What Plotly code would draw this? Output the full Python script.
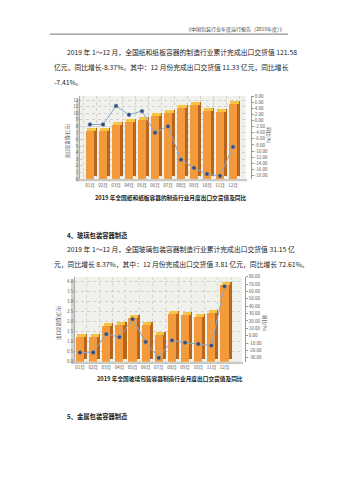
import plotly.graph_objects as go

W, H = 339, 480
def px(x): return x / W
def py(y): return 1 - y / H

months = ["01月", "02月", "03月", "04月", "05月", "06月", "07月", "08月", "09月", "10月", "11月", "12月"]
paper_export = [7.3, 7.3, 8.2, 8.6, 9.0, 9.5, 10.0, 10.8, 11.3, 10.3, 10.2, 11.4]
paper_yoy = [-1.3, -1.3, 4.8, 1.9, 3.1, -4.0, -1.9, -12.8, -15.5, -17.5, -18.1, -8.6]
glass_export = [1.22, 1.25, 1.78, 1.85, 2.18, 1.85, 1.33, 2.40, 2.35, 2.25, 2.45, 3.81]
glass_yoy = [-22.8, -22.8, 2.2, -1.8, 22.4, -8.5, -30.0, -6.3, -9.4, -11.2, -13.4, 67.1]
paper_left_ticks = list(range(0, 13))
paper_right_ticks = list(range(-18, 9, 2))
glass_left_ticks = [0, 0.5, 1.0, 1.5, 2.0, 2.5, 3.0, 3.5, 4.0]
glass_right_ticks = list(range(-30, 81, 10))

idx = list(range(len(months)))
FONT = "Noto Sans CJK SC"
FRONT, SIDE, CAP = "#F39A3C", "#B8661E", "#F6C443"
LINE_C, MARK_C = "#8CA7CB", "#2F4B7C"

fig = go.Figure()

def add_chart(xa, ya, ya2, export, yoy, dx, dy, w=0.62):
    n = len(export)
    fig.add_trace(go.Bar(x=idx, y=export, base=[dy] * n, offset=-w / 2 + dx, width=w,
                         marker=dict(color=SIDE, line=dict(width=0)), xaxis=xa, yaxis=ya,
                         hoverinfo="skip"))
    fig.add_trace(go.Bar(x=idx, y=export, offset=-w / 2, width=w,
                         marker=dict(color=FRONT, line=dict(width=0)), xaxis=xa, yaxis=ya))
    fig.add_trace(go.Bar(x=idx, y=[dy] * n, base=export, offset=-w / 2 + dx / 2, width=w,
                         marker=dict(color=CAP, line=dict(width=0)), xaxis=xa, yaxis=ya,
                         hoverinfo="skip"))
    fig.add_trace(go.Scatter(x=idx, y=yoy, mode="lines+markers", xaxis=xa, yaxis=ya2,
                             line=dict(color=LINE_C, width=1),
                             marker=dict(color=MARK_C, size=3.8, line=dict(color="#6F86AE", width=0.5))))

add_chart("x", "y", "y2", paper_export, paper_yoy, 0.23, 0.45)
add_chart("x2", "y3", "y4", glass_export, glass_yoy, 0.23, 0.15)

tickf = dict(family=FONT, size=4.5, color="#555")
common_x = dict(tickvals=idx, ticktext=months, tickfont=tickf, ticks="", showline=False,
                showgrid=False, zeroline=False, fixedrange=True, ticklabelstandoff=2,
                minor=dict(tick0=-0.5, dtick=1, ticks="", showgrid=True, gridcolor="#D3D3D3",
                           griddash="dot", gridwidth=0.5))
common_yl = dict(tickfont=tickf, ticks="", showgrid=True, gridcolor="#CFCFCF", griddash="dot",
                 gridwidth=0.5, zeroline=False, showline=True, linecolor="#AAAAAA", linewidth=0.6)
common_yr = dict(tickfont=tickf, ticks="outside", ticklen=2, tickcolor="#999", showgrid=False,
                 zeroline=False, showline=True, linecolor="#999999", linewidth=0.6,
                 side="right", anchor="free")

fig.update_layout(
    width=W, height=H, margin=dict(l=0, r=0, t=0, b=0), showlegend=False,
    paper_bgcolor="white", plot_bgcolor="#F0F1EA", barmode="overlay", bargap=0,
    xaxis=dict(domain=[px(80), px(246)], range=[-0.77, 12.0], anchor="y", **common_x),
    yaxis=dict(domain=[py(178.3), py(94.3)], range=[0, 12.6], anchor="x",
               tickvals=paper_left_ticks, ticktext=[str(v) for v in paper_left_ticks], **common_yl),
    yaxis2=dict(overlaying="y", position=px(251), range=[-19.16, 8.0],
                tickvals=paper_right_ticks, ticktext=["%.2f" % v for v in paper_right_ticks], **common_yr),
    xaxis2=dict(domain=[px(75), px(242)], range=[-0.38, 12.33], anchor="y3", **common_x),
    yaxis3=dict(domain=[py(363.3), py(277.3)], range=[0, 4.216], anchor="x2",
                tickvals=glass_left_ticks, ticktext=["%.1f" % v for v in glass_left_ticks], **common_yl),
    yaxis4=dict(overlaying="y3", position=px(245), range=[-35.4, 80],
                tickvals=glass_right_ticks, ticktext=["%.2f" % v for v in glass_right_ticks], **common_yr),
)

shapes = [
    dict(type="line", xref="paper", yref="paper", x0=px(50), x1=px(288), y0=py(31.5), y1=py(31.5),
         line=dict(color="#555", width=0.8)),
    # chart 1 wall & floor
    dict(type="rect", xref="paper", yref="paper", x0=px(76), x1=px(80), y0=py(180.5), y1=py(97),
         fillcolor="#D2D4CC", line=dict(width=0), layer="below"),
    dict(type="rect", xref="paper", yref="paper", x0=px(77), x1=px(247), y0=py(180.5), y1=py(178.3),
         fillcolor="#C9CBC3", line=dict(width=0), layer="below"),
    # chart 2 wall & floor
    dict(type="rect", xref="paper", yref="paper", x0=px(71), x1=px(75), y0=py(365.5), y1=py(280),
         fillcolor="#D2D4CC", line=dict(width=0), layer="below"),
    dict(type="rect", xref="paper", yref="paper", x0=px(72), x1=px(243), y0=py(365.5), y1=py(363.3),
         fillcolor="#C9CBC3", line=dict(width=0), layer="below"),
]
fig.update_layout(shapes=shapes)

def txt(x, y, s, size=6.8, bold=False, anchor="left", color="#222", angle=0):
    fig.add_annotation(x=px(x), y=py(y), xref="paper", yref="paper", text=("<b>%s</b>" % s) if bold else s,
                       showarrow=False, xanchor=anchor, yanchor="middle", textangle=angle,
                       font=dict(family=FONT, size=size, color=color))

txt(287, 26.5, "《中国包装行业年度运行报告（2019年度）》", size=5, anchor="right", color="#444")
txt(65, 50, "2019 年 1～12 月，全国纸和纸板容器的制造行业累计完成出口交货值 121.58")
txt(52, 65, "亿元，同比增长-8.37%。其中：12 月份完成出口交货值 11.33 亿元，同比增长")
txt(52, 80, "-7.41%。")
txt(67, 140, "出口交货值(亿元)", size=4.5, anchor="center", color="#444", angle=-90)
txt(269, 134, "同比(%)", size=4.5, anchor="center", color="#444", angle=90)
txt(170.5, 197, "2019 年全国纸和纸板容器的制造行业月度出口交货值及同比", size=5.7, bold=True, anchor="center")

txt(65, 235, "4、玻璃包装容器制造", size=6.3, bold=True)
txt(65, 249.5, "2019 年 1～12 月，全国玻璃包装容器制造行业累计完成出口交货值 31.15 亿")
txt(52, 264.5, "元，同比增长 8.37%，其中：12 月份完成出口交货值 3.81 亿元，同比增长 72.61%。")
txt(59, 324, "出口交货值(亿元)", size=4.5, anchor="center", color="#444", angle=-90)
txt(264, 324, "同比(%)", size=4.5, anchor="center", color="#444", angle=90)
txt(170, 380, "2019 年全国玻璃包装容器制造行业月度出口交货值及同比", size=5.7, bold=True, anchor="center")

txt(65, 419, "5、金属包装容器制造", size=6.3, bold=True)

fig.write_html("out.html")
